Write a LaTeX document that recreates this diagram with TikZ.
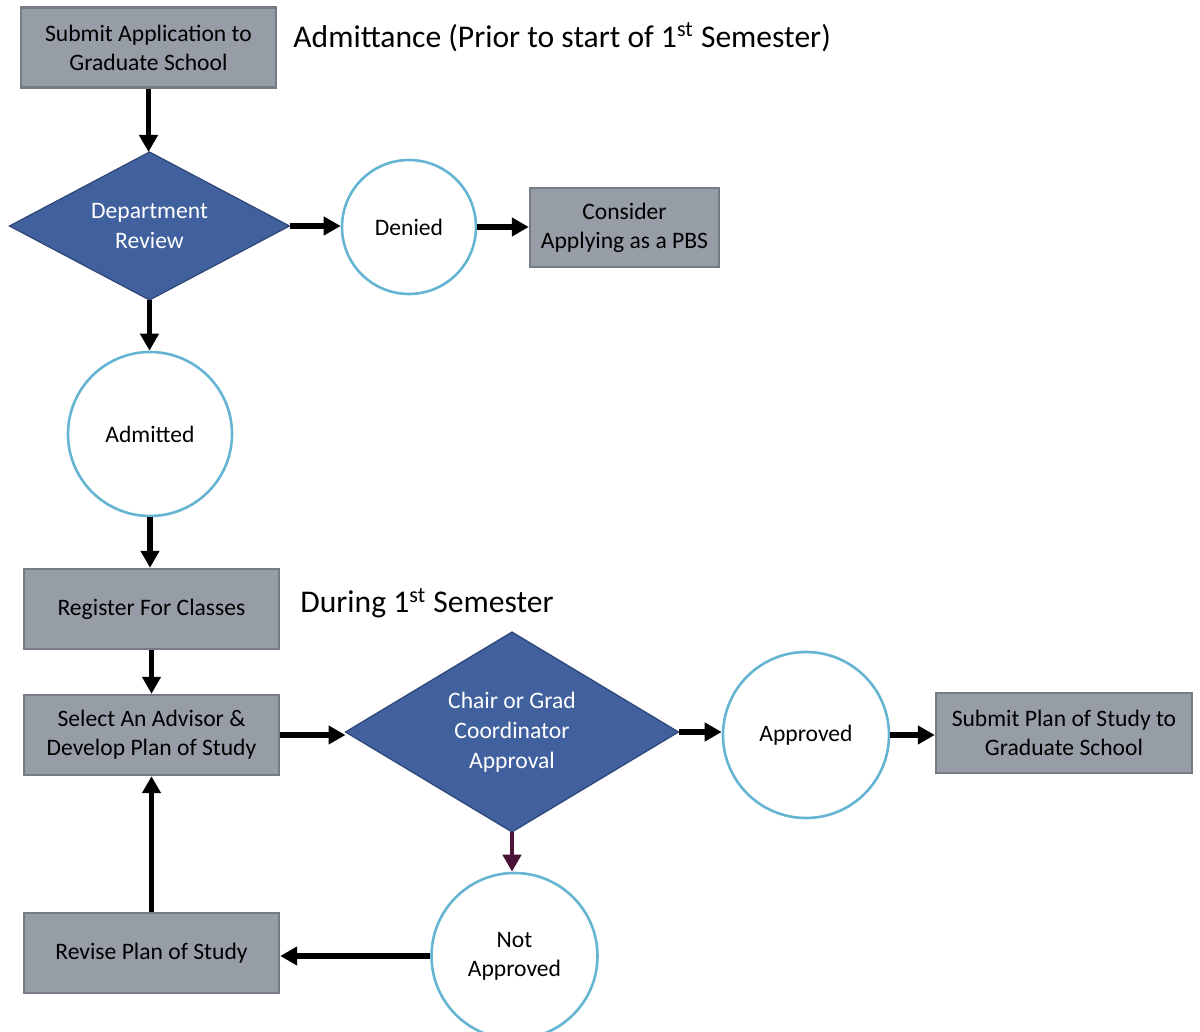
\documentclass[tikz,border=0pt]{standalone}
\usepackage{fontspec}
\setmainfont{Carlito}
\usetikzlibrary{shapes.geometric,arrows.meta}
\definecolor{boxfill}{RGB}{151,157,167}
\definecolor{boxline}{RGB}{118,124,133}
\definecolor{dfill}{RGB}{64,96,158}
\definecolor{dline}{RGB}{45,70,118}
\definecolor{cline}{RGB}{100,180,210}
\definecolor{darr}{RGB}{75,20,55}
\tikzset{
  procbox/.style={draw=boxline, fill=boxfill, line width=1.2pt, rectangle, inner sep=0pt,
    minimum width=127.5pt, minimum height=40pt, align=center,
    font=\fontsize{11.8}{14.5}\selectfont, text=black},
  decide/.style={draw=dline, fill=dfill, line width=0.6pt, diamond, aspect=2, inner sep=0pt, outer sep=0pt,
    align=center, text=white, font=\fontsize{11.8}{15}\selectfont},
  state/.style={draw=cline, fill=white, line width=1.3pt, circle, inner sep=0pt, align=center,
    font=\fontsize{11.8}{14.5}\selectfont, text=black},
  flow/.style={-{Triangle[length=8.5pt,width=9pt]}, line width=2.6pt, black},
  heading/.style={anchor=west, inner sep=0pt, font=\fontsize{15.8}{19}\selectfont}
}
\begin{document}
\begin{tikzpicture}[x=0.5pt,y=-0.5pt]
\useasboundingbox (0,0) rectangle (1200,1032);
\node[procbox] (sub) at (148.5,47.5) {Submit Application to\\Graduate School};
\node[decide, minimum width=140pt, minimum height=74pt] (dr) at (149.5,226) {Department\\Review};
\node[state, minimum size=67pt] (den) at (409,227) {Denied};
\node[procbox, minimum width=94.5pt, minimum height=39.5pt] (pbs) at (624.5,227.5) {Consider\\Applying as a PBS};
\node[state, minimum size=82pt] (adm) at (150,434) {Admitted};
\node[procbox] (reg) at (151.5,609) {Register For Classes};
\node[procbox] (sel) at (151.5,735) {Select An Advisor \&\\Develop Plan of Study};
\node[decide, minimum width=166.5pt, minimum height=100pt] (cg) at (512,732) {Chair or Grad\\Coordinator\\Approval};
\node[state, minimum size=83pt] (app) at (806,735) {Approved};
\node[procbox, minimum width=128pt] (sps) at (1064,733) {Submit Plan of Study to\\Graduate School};
\node[state, minimum size=83pt] (nap) at (514.5,956) {Not\\Approved};
\node[procbox] (rev) at (151.5,953) {Revise Plan of Study};
\node[heading] (h1) at (293,37) {Admittance (Prior to start of 1\textsuperscript{st} Semester)};
\node[heading] (h2) at (300,603) {During 1\textsuperscript{st} Semester};
\draw[flow] (sub.south) -- (sub.south |- dr.north);
\draw[flow] (dr.east) -- (dr.east -| den.west);
\draw[flow] (den.east) -- (den.east -| pbs.west);
\draw[flow] (dr.south) -- (dr.south |- adm.north);
\draw[flow] (adm.south) -- (adm.south |- reg.north);
\draw[flow] (reg.south) -- (sel.north);
\draw[flow] (sel.east) -- (sel.east -| cg.west);
\draw[flow] (cg.east) -- (cg.east -| app.west);
\draw[flow] (app.east) -- (app.east -| sps.west);
\draw[flow, darr, line width=2.4pt] (cg.south) -- (cg.south |- nap.north);
\draw[flow] (nap.west) -- (nap.west -| rev.east);
\draw[flow] (rev.north) -- (sel.south);
\end{tikzpicture}
\end{document}
